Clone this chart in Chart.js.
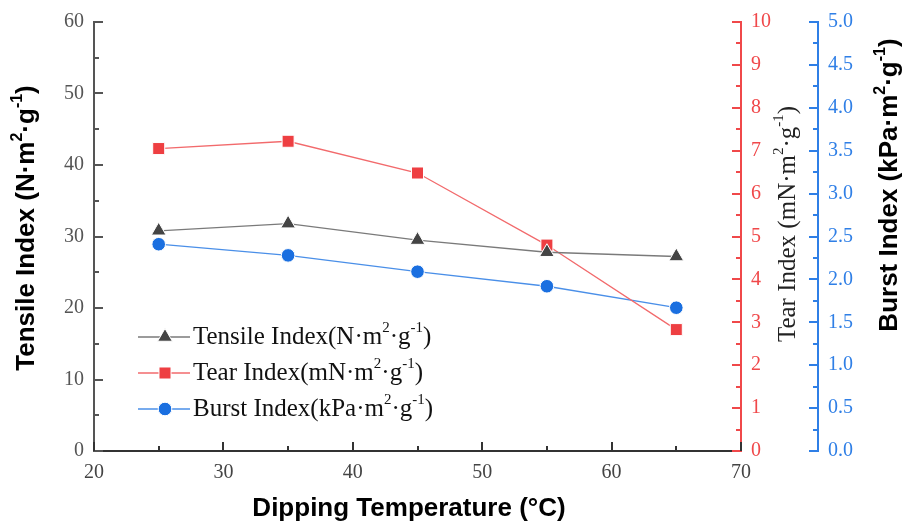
<!DOCTYPE html>
<html><head><meta charset="utf-8">
<script src="https://cdn.jsdelivr.net/npm/chart.js@4"></script>
<style>html,body{margin:0;padding:0;background:#fff}#wrap{width:905px;height:527px;position:relative}</style>
</head><body><div id="wrap"><canvas id="c" width="905" height="527"></canvas></div>
<script>
const temperatures = [25, 35, 45, 55, 65];
const tensileIndex = [30.8, 31.8, 29.5, 27.8, 27.2];
const tearIndex = [7.05, 7.22, 6.48, 4.80, 2.83];
const burstIndex = [2.41, 2.28, 2.09, 1.92, 1.67];
const seriesNames = ['Tensile Index', 'Tear Index', 'Burst Index'];

const SERIF = '"Liberation Serif", "Times New Roman", serif';
const SANS = '"Liberation Sans", Arial, sans-serif';
const C_GRAY = '#444444', C_GRAYLINE = '#7a7a7a';
const C_RED = '#ee3f42', C_REDLINE = '#f26a6c';
const C_BLUE = '#1a6fe0', C_BLUELINE = '#4a8fe8';
const C_RAX = '#f0484a', C_BAX = '#2f7fe6';

function pts(vals){ return temperatures.map((t,i)=>({x:t,y:vals[i]})); }

function richWidth(ctx, parts, size, family, weight){
  const supSize = Math.round(size*0.6);
  let total = 0;
  parts.forEach(p=>{ ctx.font = `${weight} ${p[1]?supSize:size}px ${family}`; total += ctx.measureText(p[0]).width; });
  return total;
}
function drawRichLeft(ctx, parts, x0, cy, size, family, weight, color){
  const supSize = Math.round(size*0.6);
  let x = x0;
  ctx.fillStyle = color; ctx.textBaseline = 'middle'; ctx.textAlign = 'left';
  parts.forEach(p=>{
    ctx.font = `${weight} ${p[1]?supSize:size}px ${family}`;
    ctx.fillText(p[0], x, p[1] ? cy - size*0.36 : cy);
    x += ctx.measureText(p[0]).width;
  });
}
function drawRich(ctx, parts, cx, cy, size, family, weight, color){
  const w = richWidth(ctx, parts, size, family, weight);
  drawRichLeft(ctx, parts, cx - w/2, cy, size, family, weight, color);
}

function marker(ctx, style, x, y, r, fill){
  ctx.save(); ctx.fillStyle = fill; ctx.strokeStyle = '#fff'; ctx.lineWidth = 1;
  ctx.beginPath();
  if (style === 'triangle'){
    ctx.moveTo(x, y - r); ctx.lineTo(x + r*0.866, y + r*0.5); ctx.lineTo(x - r*0.866, y + r*0.5); ctx.closePath();
  } else if (style === 'rect'){
    const s = Math.SQRT1_2*r; ctx.rect(x-s, y-s, 2*s, 2*s);
  } else { ctx.arc(x, y, r, 0, Math.PI*2); }
  ctx.fill(); ctx.stroke(); ctx.restore();
}

const decorPlugin = {
  id: 'decor',
  afterDraw(chart){
    const ctx = chart.ctx, ca = chart.chartArea;
    const sx = chart.scales.x, sy = chart.scales.y, st = chart.scales.yTear, sb = chart.scales.yBurst;
    ctx.save();
    function vTicks(scale, xLine, dir, step, color){
      ctx.strokeStyle = color; ctx.lineWidth = 2;
      const n = Math.round((scale.max - scale.min)/step);
      for (let i=0;i<=n;i++){
        const v = scale.min + i*step; const y = Math.round(scale.getPixelForValue(v));
        const len = (i%2===0) ? 9 : 5;
        ctx.beginPath(); ctx.moveTo(xLine, y); ctx.lineTo(xLine + dir*len, y); ctx.stroke();
      }
    }
    vTicks(sy, ca.left, 1, 5, '#555');
    vTicks(st, st.left, -1, 0.5, C_RAX);
    vTicks(sb, sb.left, -1, 0.25, C_BAX);
    ctx.strokeStyle = '#333'; ctx.lineWidth = 2;
    for (let i=0;i<=10;i++){
      const v = sx.min + i*5; const x = Math.round(sx.getPixelForValue(v));
      const len = (i%2===0) ? 9 : 5;
      ctx.beginPath(); ctx.moveTo(x, ca.bottom); ctx.lineTo(x, ca.bottom - len); ctx.stroke();
    }
    // axis titles
    const sup = [['2',1],['·g'],['-1',1],[')']];
    ctx.save(); ctx.translate(27, 228); ctx.rotate(-Math.PI/2);
    drawRich(ctx, [['Tensile Index (N·m']].concat(sup), 0, 0, 26, SANS, 'bold', '#000');
    ctx.restore();
    ctx.save(); ctx.translate(788, 224); ctx.rotate(-Math.PI/2);
    drawRich(ctx, [['Tear Index (mN·m']].concat(sup), 0, 0, 25, SERIF, 'normal', '#222');
    ctx.restore();
    ctx.save(); ctx.translate(890, 185); ctx.rotate(-Math.PI/2);
    drawRich(ctx, [['Burst Index (kPa·m']].concat(sup), 0, 0, 26, SANS, 'bold', '#000');
    ctx.restore();
    drawRich(ctx, [['Dipping Temperature (°C)']], 409, 509, 26, SANS, 'bold', '#000');
    // legend
    const ds = chart.data.datasets;
    const rows = [337, 373, 409];
    const units = ['(N·m', '(mN·m', '(kPa·m'];
    ds.forEach((d,i)=>{
      const y = rows[i];
      ctx.strokeStyle = d.borderColor; ctx.lineWidth = 1.3;
      ctx.beginPath(); ctx.moveTo(138, y); ctx.lineTo(190, y); ctx.stroke();
      marker(ctx, d.pointStyle, 165, y, d.pointRadius, d.pointBackgroundColor);
      drawRichLeft(ctx, [[d.label + units[i]]].concat(sup), 193, y, 25, SERIF, 'normal', '#111');
    });
    ctx.restore();
  }
};

new Chart(document.getElementById('c'), {
  type: 'line',
  data: {
    datasets: [
      { label: seriesNames[0], data: pts(tensileIndex), yAxisID: 'y', borderColor: C_GRAYLINE, borderWidth: 1.3,
        pointStyle: 'triangle', pointRadius: 8.5, pointBackgroundColor: C_GRAY, pointBorderColor: '#fff', pointBorderWidth: 1 },
      { label: seriesNames[1], data: pts(tearIndex), yAxisID: 'yTear', borderColor: C_REDLINE, borderWidth: 1.3,
        pointStyle: 'rect', pointRadius: 8.5, pointBackgroundColor: C_RED, pointBorderColor: '#fff', pointBorderWidth: 1 },
      { label: seriesNames[2], data: pts(burstIndex), yAxisID: 'yBurst', borderColor: C_BLUELINE, borderWidth: 1.3,
        pointStyle: 'circle', pointRadius: 6.8, pointBackgroundColor: C_BLUE, pointBorderColor: '#fff', pointBorderWidth: 1 }
    ]
  },
  options: {
    responsive: false, animation: false, devicePixelRatio: 1,
    layout: { padding: { top: 16, bottom: 0, left: 0, right: 0 } },
    plugins: { legend: { display: false }, tooltip: { enabled: false } },
    elements: { line: { tension: 0 } },
    scales: {
      x: { type: 'linear', position: 'bottom', min: 20, max: 70,
        ticks: { stepSize: 10, color: '#444', font: { family: SERIF, size: 20 }, padding: 10, maxRotation: 0 },
        grid: { display: false, drawTicks: false },
        border: { display: true, color: '#333', width: 2 },
        afterFit(s){ s.height = 76; } },
      y: { position: 'left', min: 0, max: 60,
        ticks: { stepSize: 10, color: '#555', font: { family: SERIF, size: 20 }, padding: 10 },
        grid: { display: false, drawTicks: false },
        border: { display: true, color: '#555', width: 2 },
        afterFit(s){ s.width = 94; } },
      yTear: { position: 'right', weight: 0, min: 0, max: 10,
        ticks: { stepSize: 1, color: C_RAX, font: { family: SERIF, size: 20 }, padding: 10 },
        grid: { display: false, drawTicks: false },
        border: { display: true, color: C_RAX, width: 2 },
        afterFit(s){ s.width = 77; } },
      yBurst: { position: 'right', weight: 1, min: 0, max: 5,
        ticks: { stepSize: 0.5, color: C_BAX, font: { family: SERIF, size: 20 }, padding: 10,
          callback: v => Number(v).toFixed(1) },
        grid: { display: false, drawTicks: false },
        border: { display: true, color: C_BAX, width: 2 },
        afterFit(s){ s.width = 87; } }
    }
  },
  plugins: [decorPlugin]
});
</script>
</body></html>
